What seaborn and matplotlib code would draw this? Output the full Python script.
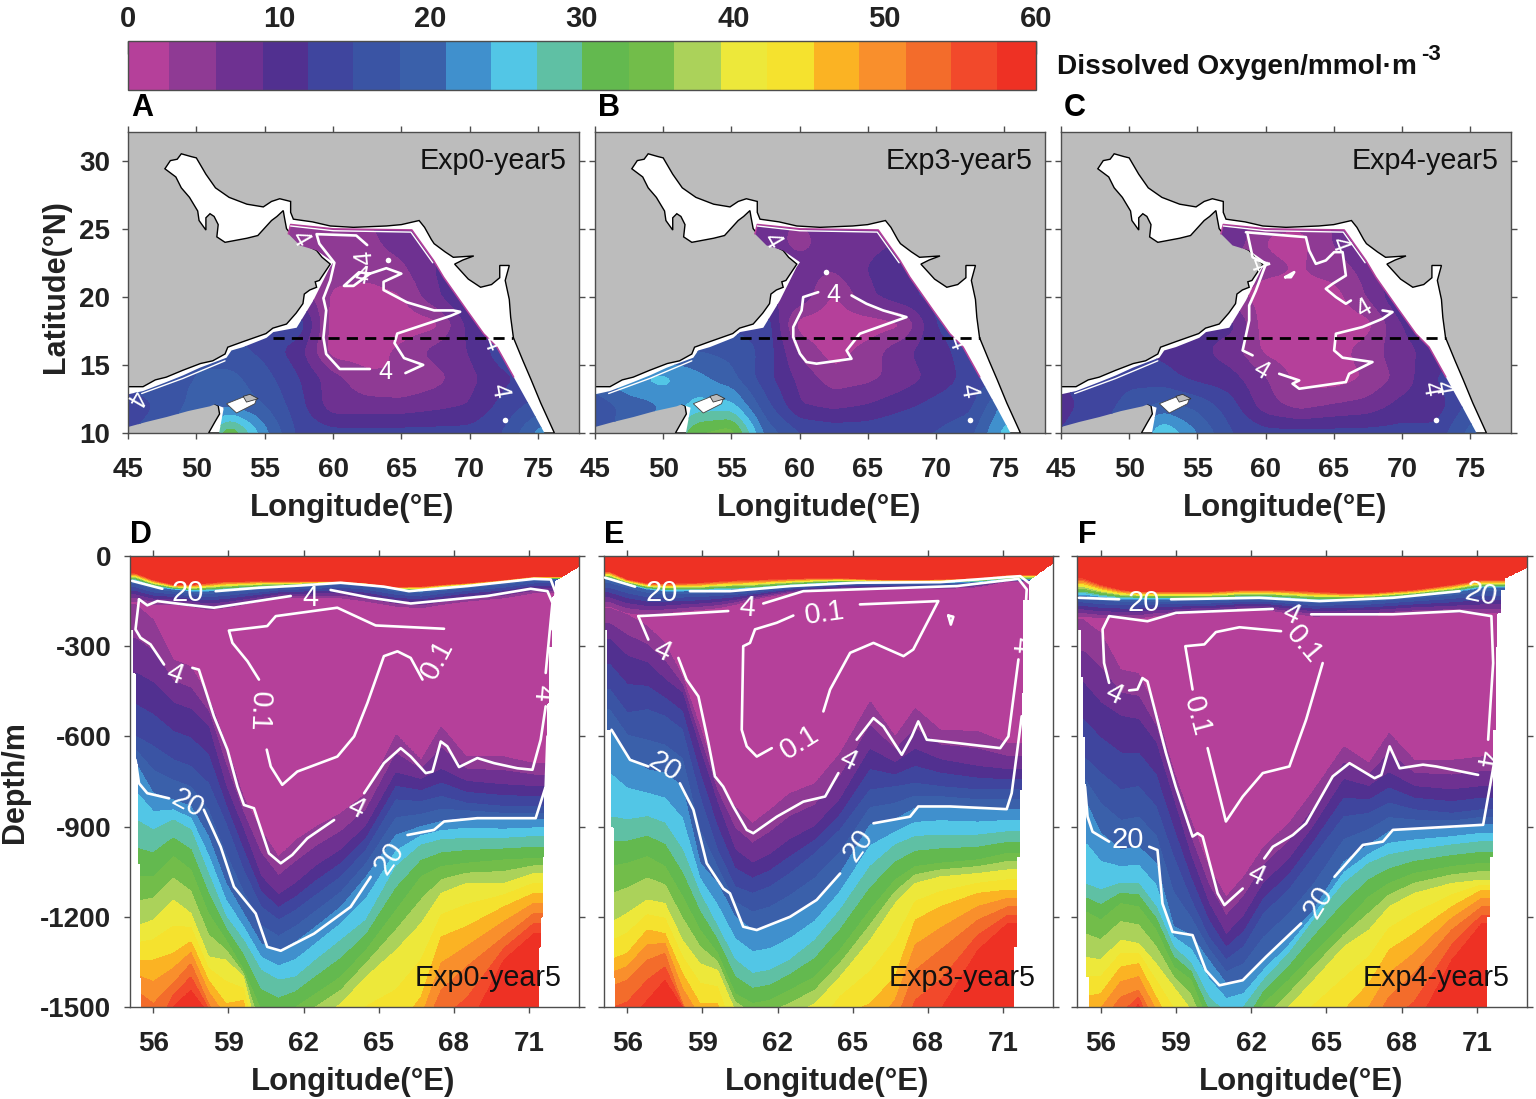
import numpy as np
import matplotlib
matplotlib.use("Agg")
import matplotlib.pyplot as plt
from matplotlib.colors import ListedColormap, BoundaryNorm
from matplotlib.colorbar import ColorbarBase
from matplotlib.patches import Polygon
import seaborn as sns

sns.set_style("ticks")
plt.rcParams['font.family'] = ['Liberation Sans', 'DejaVu Sans']

# ---------------- colour scale
LEVELS = [0, 2.7, 5.8, 8.9, 11.9, 14.9, 18, 21, 24, 27, 30, 33.1, 36.1, 39.2, 42.2, 45.3, 48.3, 51.4, 54.4, 57.4, 60]
COLORS = ['#b5409a', '#8f3a94', '#6e3191', '#513090', '#3f459e', '#3a54a4', '#3a60aa', '#4090cd', '#52c6e6', '#5fc0a4',
          '#63b94f', '#72bd4a', '#abd25a', '#ede83a', '#f5e22e', '#fbb323', '#f98f2c', '#f36c2b', '#f2492b', '#ee3124']
CBAR_TICKS = [0, 10, 20, 30, 40, 50, 60]

# ---------------- map data
COAST = [(45,13.4),(46.1,13.4),(47,13.9),(47.8,14.1),(49,14.6),(50.3,15.1),(51.2,15.3),(52.1,15.8),(52.3,16.3),(53.4,16.7),(55.1,17.3),(55.6,17.7),
         (56.6,18),(57.3,18.8),(57.8,19.5),(57.9,20.2),(58.3,20.5),(58.8,20.7),(58.7,21.1),(59,21.2),(59.8,22.4),(59.2,22.9),(58.8,23.4),(57.6,24),(57,24.5),(56.6,25),
         (56.45,25.8),(56.36,26.33),(55.9,25.9),(55.5,25.6),(54.5,24.5),(53.7,24.3),(52.9,24.15),(52.1,24),(51.5,24.4),(51.6,25.3),(51.3,25.9),(51.0,26.1),(50.7,25.8),(50.7,24.9),
         (50.2,25.6),(50.1,26.3),(49.5,27.3),(48.9,28),(48.5,28.8),(47.7,29.4),(48.1,30),(48.6,30.1),(48.9,30.5),(49.6,30.3),(50,30.2),(50.7,29),(51.4,28),(52.4,27.3),(53.7,26.8),
         (54.9,26.6),(55.5,27),(56.1,27.2),(56.9,27),(56.9,26.2),(57.1,25.7),(58.5,25.5),(59.8,25.2),(61.5,25.1),(63.9,25.2),(65,25.3),(66.3,25.6),(66.7,25.1),(67.2,24.2),(67.4,23.9),(68.2,23.3),(68.8,22.9),
         (70.3,23),(69.5,22.7),(68.9,22.4),(69.9,21.3),(70.8,20.7),(71.6,20.9),(72.2,21.4),(72.2,22.3),(72.9,22.3),(72.6,21.2),(72.9,19.8),(73,18.5),(73.2,17),(73.9,15.3),(74.5,13.9),
         (75.2,12.2),(76.2,10),(50.9,10),(51.35,10.8),(51.7,11.4),(51.6,12),(51,12.3),(49.3,11.8),(47.8,11.4),(46.3,11.1),(45,10.7)]
SEA = [(45,12.84),(46.1,13.08),(47.81,13.74),(49.03,14.23),(50.25,14.79),(52.21,15.53),(52.57,16.06),(53.43,16.31),(55.14,16.99),
       (55.63,17.41),(57.34,17.73),(58.56,19.73),(59.78,22.18),(60.03,22.54),(58.8,23.4),(57.58,23.77),(56.73,24.62),(56.9,25.31),
       (60.03,24.99),(65.77,24.91),(67.36,22.67),(68.09,21.44),(69.8,19),(71.02,17.29),(71.99,16.31),(73.22,14.11),(74.44,11.91),
       (75.47,10),(51.67,10),(52.01,11.86),(51.35,12.1),(50.99,11.96),(49.4,11.61),(47.81,11.17),(46.34,10.81),(45,10.44)]
FRINGE = [(56.73,24.62),(56.9,25.31),(60.03,24.99),(65.77,24.91),(67.36,22.67),(68.09,21.44),(69.8,19),(71.02,17.29),(71.99,16.31),(73.22,14.11)]
SOCOTRA = [(52.21,12.15),(53.43,12.64),(54.41,12.52),(54.28,12.15),(52.94,11.47)]
SOCOTRA_LAND = [(53.43,12.69),(53.92,12.84),(54.53,12.52),(53.67,12.27)]
SECTION_LINE_LON = [55.6, 73.2]
SECTION_LINE_LAT = [17, 17]

MAP_LON = [45, 47.5, 50, 52.5, 55, 57.5, 60, 62.5, 65, 67.5, 70, 72.5, 75, 77.5]
MAP_LAT = [10, 12, 14, 16, 18, 20, 22, 24, 26]
MAP_A = [[15,17,22,33,22,14,13,13,13,13,13,15,22,25],
         [12,16,19,20,18,13,7,7,7,8,9,13,16,20],
         [17,17,18,19,16,12,7,3.5,2.5,4.5,8,11,14,16],
         [17,18,18,16,14,10,1,1,3.5,7,9,14,15,15],
         [14,14,14,14,14,14,1,0.5,0.5,1.5,10,13,14,14],
         [10,10,10,10,10,8,2,1,2.5,8,13,14,14,14],
         [6,6,6,6,6,5,4,4,5,9,12,13,13,13],
         [5,5,5,5,5,5,4,5,7,8,9,9,9,9],
         [5,5,5,5,5,5,5,6,7,8,9,9,9,9]]
MAP_B = [[17,19,24,33,35,20,15,14,14,15,15,17,25,25],
         [16,19,21,25,25,16,9,8,9,11,13,14,22,22],
         [20,24,25,22,19,13,8,4,5,7,10,13,15,18],
         [18,18,18,18,17,14,5,1,4,8,11,13,14,14],
         [14,14,14,14,14,14,1,0.5,0.5,2,12,13,13,13],
         [9,9,9,9,9,9,8,2,8,11,13,13,13,13],
         [7,7,7,7,7,7,7,6,9,11,12,12,12,12],
         [6,6,6,6,6,7,5,7,8,9,9,9,9,9],
         [6,6,6,6,6,6,6,7,8,9,9,9,9,9]]
MAP_C = [[12,14,18,27,21,15,13,13,13,13,13,13,19,22],
         [11,13,16,19,17,13,7,4.5,6,7,10,10,16,18],
         [12,13,14,13,11,10,6,1.5,1,3,7,12,14,15],
         [13,13,13,11,10,7,2,0.5,1.5,4,8,10,12,12],
         [10,10,10,10,10,10,0.5,0.5,0.5,1.5,9,11,11,11],
         [4,4,4,4,4,4,1,1,1.2,6,12,12,12,12],
         [4,4,4,4,4,4,3.5,2.5,4,7,10,10,10,10],
         [8,8,8,8,8,8,2.5,1.5,6,9,9,9,9,9],
         [8,8,8,8,8,8,4,4,6,9,9,9,9,9]]

LINES_A = [[(62.5,23.8),(61.7,24.5),(58.8,24.6),(59,23.9),(60.1,22.5),(59.8,21.2),(59.3,19.9),(59.5,19),(59.3,17),(59.5,15.8),(60.5,14.7),(62.7,14.7)],
           [(65.3,14.4),(66.6,15),(65.2,15.5),(64.5,16.6),(64.7,17.3),(68.6,18.6),(69.3,18.9),(68.8,19),(67.4,19),(65.4,19.6),(63.7,20.5),(63.7,21.1),(65,21.7),(63.9,22.1),(62.7,21.7),(61.9,21.8),(60.8,20.8),(61.5,20.8),(62.7,21.7)]]
LINES_B = [[(61.37,20.34),(60.27,19.98),(60.15,19),(59.54,17.78),(59.54,17.04),(60.03,15.82),(60.51,15.21),(61.25,15.09),(63.81,15.45),(63.45,16.06),(64.42,17.29),(67.84,18.51),(66.13,19),(64.91,19.49),(63.81,20.1)]]
LINES_C = [[(58.56,24.74),(62.96,24.38),(63.2,23.4),(63.69,22.42),(64.42,22.67),(65.03,23.28),(65.65,23.28),(65.89,21.56),(64.91,20.95),(64.42,20.59),(65.16,19.98),(65.89,19.49),(66.26,19.73)],
           [(68.58,19),(69.31,18.88),(68.58,18.39),(67.11,17.78),(65.16,17.29),(65.03,16.06),(65.65,15.53),(67.84,15.21),(66.13,14.35),(65.89,13.74),(62.47,13.25),(61.98,13.62),(62.47,13.86),(61,14.35)],
           [(59.05,15.7),(58.32,16.06),(58.8,18.26),(58.8,19.36),(59.29,20.46),(60.03,22.42),(59.05,22.91),(58.68,24.62)],
           [(61.44,21.44),(62.1,21.81),(61.86,21.44),(61.44,21.44)]]
COAST_4 = [[(56.9,25.2),(60.03,24.85),(65.7,24.75),(67.3,22.5)],[(46,12.9),(49,14.0),(52.1,15.3)]]
DOTS_A = [(64.06,22.67),(72.56,10.93)]
DOTS_B = [(61.93,21.81),(72.53,10.93)]
DOTS_C = [(72.49,10.93)]
LABELS_A = [(62.3,22.9,95),(62.1,21.5,-10),(63.8,14.5,0),(57.6,24.3,-60),(71.6,16.6,-70),(72.2,13.1,-80),(45.5,12.6,-120)]
LABELS_B = [(62.47,20.1,0),(57.95,24.13,-60),(71.5,16.67,-70),(72.36,13.13,-80)]
LABELS_C = [(59.66,14.6,-30),(67.23,19.12,30),(65.4,23.84,-70),(59.4,22.42,-70),(72.1,13.25,-80),(73.0,13.3,-80)]

# ---------------- section data (depth in m of oxygen values at each longitude)
SEC_LON = [55.3,56,56.8,57.5,58.2,58.9,59.6,60.3,61,61.7,62.5,63.5,64.5,65.7,66.7,67.5,68.5,70,71.2]
SEC_VALUES_UP = [57.4, 20, 2.7]
SEC_VALUES_DEEP = [2.7, 8.9, 14.9, 21, 27, 33.1, 39.2, 45.3, 51.4, 57.4]

D_UP = [[56,78,94,94,89,83,83,81,83,83,83,83,89,102,100,94,89,78,67],
        [83,102,111,117,117,114,109,106,102,98,94,89,94,111,117,109,100,89,76],
        [150,161,161,167,178,172,161,150,139,139,139,139,150,167,172,161,150,139,122]]
D_DEEP = [[161,211,344,367,467,622,800,911,1000,944,900,855,789,594,678,567,667,667,689],
          [389,422,489,511,567,767,911,1067,1128,1089,1033,978,900,722,744,711,750,761,767],
          [600,633,678,700,756,889,1044,1167,1211,1178,1128,1067,978,811,817,800,822,833,833],
          [689,789,811,833,933,1089,1189,1289,1317,1283,1233,1167,1067,928,900,883,872,878,876],
          [878,911,878,911,1056,1200,1278,1378,1411,1400,1344,1278,1211,1033,961,944,939,939,933],
          [1067,1067,1000,1044,1189,1278,1378,1511,1533,1500,1456,1400,1311,1178,1067,1033,1022,1011,1006],
          [1233,1211,1144,1189,1333,1344,1400,1633,1689,1633,1544,1489,1400,1311,1222,1122,1089,1089,1056],
          [1344,1344,1322,1283,1411,1489,1478,1744,1856,1800,1711,1656,1600,1578,1467,1267,1233,1167,1122],
          [1444,1489,1422,1356,1489,1578,1689,1856,1967,1911,1856,1800,1744,1711,1600,1444,1367,1267,1189],
          [1744,1689,1500,1444,1522,1689,1800,1967,2078,2022,1967,1911,1856,1822,1744,1633,1578,1344,1256]]
E_UP = [[50,76,89,91,89,87,83,80,78,76,74,72,72,76,78,78,76,72,61],
        [78,94,111,117,117,117,114,113,111,106,100,94,89,89,89,89,89,86,78],
        [167,189,194,189,183,178,172,161,144,133,122,117,111,109,109,109,109,102,83]]
E_DEEP = [[172,194,233,289,400,567,744,833,889,844,789,756,656,483,600,506,578,583,622],
          [278,333,356,411,456,644,822,978,1022,994,944,900,811,644,689,644,678,700,711],
          [444,522,511,533,578,800,978,1100,1122,1100,1056,989,911,778,767,756,767,778,778],
          [578,667,711,722,767,1022,1089,1200,1244,1233,1200,1150,1056,894,876,839,833,842,842],
          [867,878,867,889,978,1122,1233,1344,1389,1378,1344,1278,1178,1033,961,933,928,928,917],
          [1033,1022,1000,1033,1133,1244,1322,1456,1489,1478,1444,1400,1311,1178,1078,1033,1022,1011,989],
          [1222,1189,1144,1156,1278,1356,1378,1511,1556,1556,1533,1489,1400,1278,1156,1089,1067,1056,1044],
          [1344,1322,1244,1256,1389,1489,1489,1689,1744,1744,1711,1656,1533,1489,1400,1211,1167,1122,1111],
          [1433,1411,1344,1322,1489,1578,1689,1856,1911,1911,1878,1822,1744,1689,1556,1378,1311,1211,1167],
          [1578,1556,1478,1411,1500,1689,1800,2022,2078,2078,2022,1967,1911,1856,1744,1578,1511,1311,1222]]
F_UP = [[72,94,111,117,117,117,117,117,114,111,111,113,117,122,122,117,111,94,78],
        [133,139,144,144,144,144,144,144,142,139,139,144,150,147,144,139,133,122,106],
        [200,206,206,206,198,194,189,187,183,178,178,189,200,198,198,194,189,187,189]]
F_DEEP = [[211,256,378,389,511,711,878,1033,1133,1067,967,889,778,633,689,589,678,678,667],
          [422,489,533,544,622,811,1000,1156,1261,1200,1089,1011,900,744,767,722,767,778,767],
          [667,722,778,767,833,1000,1144,1267,1344,1300,1189,1111,1000,867,856,822,844,856,844],
          [800,922,978,967,1022,1233,1261,1344,1422,1411,1344,1267,1178,1017,961,917,911,906,894],
          [1089,1111,1089,1089,1167,1300,1356,1467,1522,1500,1411,1322,1211,1089,1022,994,978,961,950],
          [1178,1211,1156,1167,1244,1367,1411,1556,1633,1611,1489,1411,1322,1222,1133,1089,1056,1033,1022],
          [1333,1344,1278,1289,1356,1433,1511,1644,1744,1711,1589,1500,1411,1300,1244,1167,1122,1089,1078],
          [1467,1456,1367,1356,1467,1578,1644,1800,1911,1856,1744,1633,1578,1511,1422,1311,1256,1167,1111],
          [1578,1556,1467,1444,1556,1689,1800,1911,2022,1967,1856,1744,1711,1633,1578,1467,1389,1244,1167],
          [1689,1689,1578,1489,1644,1800,1911,2022,2133,2078,1967,1856,1822,1744,1689,1633,1578,1344,1222]]

# bathymetry steps: depth limit, western edge, eastern edge
D_LEFT = ([244,389,689,1022,1400,1501],[55.09,55.19,55.29,55.39,55.44,55.52])
D_RIGHT = ([33,78,133,300,489,767,1000,1200,1300,1501],[73.03,72.14,72.05,71.94,71.81,71.74,71.61,71.54,71.48,71.41])
E_LEFT = ([244,578,900,1400,1501],[55.09,55.17,55.35,55.44,55.52])
E_RIGHT = ([22,78,144,453,778,1000,1300,1501],[73.02,72.09,72.06,71.82,71.75,71.66,71.55,71.42])
F_LEFT = ([244,400,600,756,1400,1501],[55.09,55.2,55.27,55.36,55.43,55.53])
F_RIGHT = ([39,72,111,189,300,578,1000,1200,1501],[72.98,72.18,72.11,71.98,71.81,71.75,71.65,71.51,71.41])

D_C4 = [[(55.43,144),(55.29,244),(55.49,272),(55.89,294),(56.43,361)],
        [(57.56,372),(57.82,378),(58.42,533),(58.96,644),(59.36,767),(59.62,828),(60.02,839),(60.62,989),(61.09,1022),(61.55,994),(62.15,939),(63.22,878)],
        [(64.42,789),(65.21,689),(65.88,639),(66.28,667),(66.88,722),(67.15,717),(67.48,617),(67.74,633),(68.21,702),(68.94,672),(69.61,689),(70.54,706),(71.14,711),(71.47,611),(71.67,500)],
        [(71.67,389),(71.94,156),(71.74,117),(71.07,109),(69.34,133),(66.28,158),(64.68,139),(63.08,113)],
        [(61.49,133),(58.42,172),(57.23,161),(56.16,150),(55.76,164),(55.43,144)]]
D_C20 = [[(55.16,83),(56.36,109)],
         [(58.49,117),(60.15,106),(61.89,98),(63.48,89),(65.21,102),(66.21,117),(68.54,100),(71.2,76),(71.87,78),(72.07,122),(71.87,244)],
         [(71.74,600),(71.67,767),(71.27,872),(68.94,872),(67.61,883),(67.21,911),(66.15,928)],
         [(64.68,1067),(63.88,1167),(62.42,1256),(61.09,1313),(60.55,1300),(60.09,1189),(59.22,1100),(58.69,967),(58.02,844)],
         [(56.63,806),(55.76,789),(55.43,756),(55.29,678)]]
D_C01 = [[(67.61,242),(64.88,231),(63.35,172),(60.89,200),(60.55,233),(59.02,248),(59.16,289),(59.76,350),(60.22,411)],
         [(60.53,644),(60.69,700),(61.15,761),(61.75,717),(63.35,667),(64.02,600),(64.55,489),(65.21,333),(65.75,317),(66.28,339),(66.75,411)]]
D_LABELS = [("20",57.36,122,0),("4",62.28,139,0),("4",56.85,394,-20),("0.1",60.22,517,-92),("0.1",67.34,344,62),
            ("4",64.08,839,-25),("20",65.41,1006,55),("20",57.36,822,-28),("4",71.54,456,-95)]
E_C4 = [[(56.44,200),(56.84,278)],
        [(58.04,339),(58.37,411),(58.84,467),(59.24,622),(59.5,733),(59.83,767),(60.23,833),(60.77,911),(61.03,922),(61.97,867),(63.03,817),(63.9,800),(64.43,722)],
        [(65.16,611),(65.83,539),(66.23,567),(66.96,661),(67.36,600),(67.62,550),(67.96,611),(69.16,622),(70.89,639),(71.22,600),(71.62,344)],
        [(71.89,200),(71.95,111),(71.62,76),(69.16,100),(65.16,111),(63.03,117),(61.43,158)],
        [(60.03,183),(57.84,194),(56.44,200)]]
E_C20 = [[(55.11,72),(56.31,102)],
         [(58.5,117),(60.1,117),(62.5,100),(65.16,89),(68.49,87),(71.69,67),(72.11,94)],
         [(71.75,533),(71.35,789),(71.15,842),(68.89,833),(67.62,833),(67.29,867),(65.83,889)],
         [(64.5,1056),(63.56,1144),(62.5,1200),(61.17,1244),(60.63,1233),(60.1,1122),(59.83,1106),(59.17,1022),(58.64,844),(58.1,756)],
         [(56.84,700),(56.11,678),(55.37,578)]]
E_C01 = [[(62.63,198),(61.97,222),(61.1,244),(60.9,289),(60.63,300),(60.57,578),(60.77,633),(61.17,667),(61.77,639)],
         [(63.83,517),(64.1,444),(64.9,322),(65.83,289),(67.03,333),(67.42,311),(68.42,150),(65.29,161)],
         [(68.82,198),(69.02,202),(68.92,228),(68.82,198)]]
E_LABELS = [("20",57.37,122,0),("4",60.77,172,-5),("4",57.37,317,-25),("0.1",63.9,189,8),("0.1",62.9,622,32),
            ("4",64.83,678,-25),("20",65.23,961,55),("20",57.5,700,-32),("4",71.69,294,-95)]
F_C4 = [[(56.33,422),(56.13,356),(56.07,244),(56.33,200),(57.86,217),(59,189),(62.86,176)],
        [(64.39,194),(67.65,194),(70.31,183),(71.58,200),(71.65,356),(71.45,611)],
        [(71.05,728),(69.38,700),(68.85,694),(67.92,706),(67.52,633),(67.19,728),(66.92,739),(65.92,689),(65.25,733),(64.19,889),(63.66,928),(62.86,967),(62.52,1006)],
        [(61.66,1106),(60.93,1161),(60.66,1122),(60.06,933),(59.86,922),(59.66,933),(58.99,767),(58.6,656),(57.86,417),(57.66,406),(57.46,444),(57.13,447)]]
F_C20 = [[(55.13,139),(56.73,144)],
         [(58.8,144),(62.32,139),(64.72,150),(67.65,139),(70.31,117)],
         [(71.71,678),(71.25,894),(67.65,911),(67.25,950),(66.45,961),(65.32,1067)],
         [(63.99,1222),(62.59,1333),(61.66,1411),(60.73,1428),(60.19,1378),(59.66,1261),(58.86,1250),(58.46,1156),(58.26,978),(57.93,967)],
         [(56.33,950),(55.67,917),(55.47,867),(55.37,767)]]
F_C01 = [[(63.19,250),(61.53,237),(60.59,253),(60.13,294),(59.37,300),(59.66,444)],
         [(60.26,639),(60.99,883),(61.66,800),(62.46,722),(63.52,700),(64.19,544),(64.85,356)]]
F_LABELS = [("20",57.73,156,0),("4",63.59,194,-25),("4",56.53,461,-25),("0.1",59.82,533,-75),("0.1",64.12,294,-50),
            ("4",71.31,672,-100),("4",62.19,1061,-25),("20",64.66,1150,58),("20",57.07,944,0),("20",71.18,128,-12)]

EXP_NAMES = ["Exp0-year5", "Exp3-year5", "Exp4-year5"]
LON_TICKS_MAP = [45, 50, 55, 60, 65, 70, 75]
LAT_TICKS = [10, 15, 20, 25, 30]
LON_TICKS_SEC = [56, 59, 62, 65, 68, 71]
DEPTH_TICKS = [0, -300, -600, -900, -1200, -1500]

W, H = 1536, 1099
fig = plt.figure(figsize=(W/100, H/100), dpi=100, facecolor='white')
def add_ax(x0, x1, y0, y1):
    return fig.add_axes([x0/W, 1-y1/H, (x1-x0)/W, (y1-y0)/H])
def ftext(x, y, s, **kw):
    fig.text(x/W, 1-y/H, s, **kw)

cmap = ListedColormap(COLORS)
norm = BoundaryNorm(LEVELS, cmap.N)
AXC = '#4d4d4d'

def style(ax):
    ax.tick_params(which='major', direction='out', length=4, width=1, color=AXC,
                   top=True, right=True, labelsize=20, labelcolor='#222222')
    ax.tick_params(axis='x', pad=13)
    ax.tick_params(axis='y', pad=9)
    for s in ax.spines.values():
        s.set_color(AXC); s.set_linewidth(1.0); s.set_visible(True)
    for l in ax.get_xticklabels()+ax.get_yticklabels():
        l.set_fontweight('bold')

def white_lines(ax, segs, lw):
    for seg in segs:
        xs = [p[0] for p in seg]; ys = [p[1] for p in seg]
        sns.lineplot(x=xs, y=ys, sort=False, estimator=None, color='white', linewidth=lw, ax=ax, legend=False, zorder=6)

# ---------------- colour bar
cax = add_ax(128, 1036, 41, 90)
cb = ColorbarBase(cax, cmap=cmap, norm=norm, orientation='horizontal', spacing='proportional',
                  boundaries=LEVELS, ticks=CBAR_TICKS, ticklocation='top')
cb.minorticks_off()
cax.tick_params(axis='x', direction='in', length=9, width=1, color='#333333', labelsize=21, pad=6, labelcolor='#222222')
for l in cax.get_xticklabels():
    l.set_fontweight('bold')
cb.outline.set_edgecolor(AXC); cb.outline.set_linewidth(1)
ftext(1057, 67, "Dissolved Oxygen/mmol·m", fontsize=20.2, fontweight='bold', va='center', ha='left', color='#111111')
ftext(1421, 55, "-3", fontsize=16, fontweight='bold', va='center', ha='left', color='#111111')

# ---------------- maps
map_boxes = [(128, 579), (595, 1045), (1061, 1511)]
map_sets = [(MAP_A, LINES_A, DOTS_A, LABELS_A), (MAP_B, LINES_B, DOTS_B, LABELS_B), (MAP_C, LINES_C, DOTS_C, LABELS_C)]
fine_lon = np.arange(45, 78.01, 0.2)
fine_lat = np.arange(10, 26.01, 0.2)
for i, ((x0, x1), (vals, lines, dots, labels)) in enumerate(zip(map_boxes, map_sets)):
    ax = add_ax(x0, x1, 132, 433)
    ax.set_facecolor('#bcbcbc')
    ax.add_patch(Polygon(COAST, closed=True, fc='white', ec='black', lw=1.0, zorder=1))
    arr = np.array(vals, float)
    a1 = np.array([np.interp(fine_lon, MAP_LON, r) for r in arr])
    a2 = np.array([np.interp(fine_lat, MAP_LAT, c) for c in a1.T]).T
    k = np.ones(5)/5
    a2 = np.apply_along_axis(lambda v: np.convolve(np.pad(v, 2, mode='edge'), k, mode='valid'), 0, a2)
    a2 = np.apply_along_axis(lambda v: np.convolve(np.pad(v, 2, mode='edge'), k, mode='valid'), 1, a2)
    cs = ax.contourf(fine_lon, fine_lat, a2, levels=LEVELS, cmap=cmap, norm=norm, zorder=2, extend='max')
    clip = Polygon(SEA, closed=True, transform=ax.transData, fc='none', ec='none')
    ax.add_patch(clip)
    cs.set_clip_path(clip)
    ax.add_patch(Polygon(SOCOTRA, closed=True, fc='white', ec='#444444', lw=0.6, zorder=3))
    ax.add_patch(Polygon(SOCOTRA_LAND, closed=True, fc='#bcbcbc', ec='#333333', lw=0.6, zorder=4))
    ax.plot([p[0] for p in FRINGE], [p[1] for p in FRINGE], color='#b5409a', lw=1.1, zorder=5)
    white_lines(ax, COAST_4, 1.0)
    white_lines(ax, lines, 1.9)
    ax.scatter([d[0] for d in dots], [d[1] for d in dots], s=16, color='white', zorder=7, linewidths=0)
    for lo, la, rot in labels:
        ax.text(lo, la, "4", color='white', fontsize=18, ha='center', va='center', rotation=rot, zorder=8)
    ax.plot(SECTION_LINE_LON, SECTION_LINE_LAT, color='black', lw=2, ls=(0, (4, 2.6)), zorder=9)
    ax.set_xlim(45, 78); ax.set_ylim(10, 32.1)
    ax.set_xticks(LON_TICKS_MAP); ax.set_yticks(LAT_TICKS)
    if i > 0:
        ax.tick_params(labelleft=False)
    style(ax)
    ax.set_xlabel(''); ax.set_ylabel('')
    ftext(x1-12, 161, EXP_NAMES[i], fontsize=20.7, ha='right', va='center', color='#111111', zorder=20)
    ftext(x0+3, 108, "ABC"[i], fontsize=22, fontweight='bold', ha='left', va='center', color='black')
    ftext((x0+x1)/2-1, 508, "Longitude(°E)", fontsize=22.4, fontweight='bold', ha='center', va='center', color='#222222')

ftext(56, 287, "Latitude(°N)", fontsize=22, fontweight='bold', rotation=90, ha='center', va='center', color='#222222')

# ---------------- sections
sec_boxes = [(129.5, 579), (603.5, 1053), (1077, 1527)]
sec_sets = [(D_UP, D_DEEP, D_LEFT, D_RIGHT, D_C4, D_C20, D_C01, D_LABELS),
            (E_UP, E_DEEP, E_LEFT, E_RIGHT, E_C4, E_C20, E_C01, E_LABELS),
            (F_UP, F_DEEP, F_LEFT, F_RIGHT, F_C4, F_C20, F_C01, F_LABELS)]
g_lon = np.linspace(55.05, 73.0, 600)
g_dep = np.linspace(0, 1500, 751)
for i, ((x0, x1), (up, deep, left, right, c4, c20, c01, labs)) in enumerate(zip(sec_boxes, sec_sets)):
    ax = add_ax(x0, x1, 556, 1007)
    ax.set_facecolor('white')
    up_v = np.array([np.interp(g_lon, SEC_LON, r) for r in up])
    deep_v = np.array([np.interp(g_lon, SEC_LON, r) for r in deep])
    Z = np.zeros((g_dep.size, g_lon.size))
    for j in range(g_lon.size):
        top_d = up_v[:, j]; bot_d = deep_v[:, j]
        pt = top_d[2]; pb = max(bot_d[0], pt+1)
        ds = np.r_[0, top_d[0]-1, top_d, pt+4, pb-4 if pb-4 > pt+4 else pt+5, pb+1, bot_d[1:], 2600]
        vs = np.r_[70, 60, SEC_VALUES_UP, 1, 1, 2.7, SEC_VALUES_DEEP[1:], 70]
        ds = np.maximum.accumulate(ds) + np.arange(ds.size)*1e-3
        Z[:, j] = np.interp(g_dep, ds, vs)
    # mask outside the bathymetry: stepped in the west, stepped below a sloping top in the east
    Llim = np.array(left[1])[np.clip(np.searchsorted(left[0], g_dep), 0, len(left[1])-1)]
    Rlim = np.array(right[1])[np.clip(np.searchsorted(right[0], g_dep), 0, len(right[1])-1)]
    slope = g_dep <= right[0][1]
    Rlim[slope] = np.interp(g_dep[slope], right[0][:2], right[1][:2])
    mask = (g_lon[None, :] < Llim[:, None]) | (g_lon[None, :] > Rlim[:, None])
    Z = np.ma.array(Z, mask=mask)
    ax.contourf(g_lon, -g_dep, Z, levels=LEVELS, cmap=cmap, norm=norm, extend='max', zorder=2)
    neg = lambda segs: [[(p[0], -p[1]) for p in s] for s in segs]
    white_lines(ax, neg(c4), 1.9)
    white_lines(ax, neg(c20), 1.9)
    white_lines(ax, neg(c01), 1.9)
    for s, lo, d, rot in labs:
        ax.text(lo, -d, s, color='white', fontsize=21, ha='center', va='center', rotation=rot, zorder=8)
    ax.set_xlim(55.05, 73.0); ax.set_ylim(-1500, 0)
    ax.set_xticks(LON_TICKS_SEC); ax.set_yticks(DEPTH_TICKS)
    ax.set_yticklabels([str(t) for t in DEPTH_TICKS])
    if i > 0:
        ax.tick_params(labelleft=False)
    style(ax)
    ax.set_xlabel(''); ax.set_ylabel('')
    ftext(x1-17, 978, EXP_NAMES[i], fontsize=20.7, ha='right', va='center', color='#111111', zorder=20)
    ftext(x0+1, 535, "DEF"[i], fontsize=22, fontweight='bold', ha='left', va='center', color='black')
    ftext((x0+x1)/2-1, 1082, "Longitude(°E)", fontsize=22.4, fontweight='bold', ha='center', va='center', color='#222222')

ftext(15, 782, "Depth/m", fontsize=22, fontweight='bold', rotation=90, ha='center', va='center', color='#222222')

fig.savefig("out.png", dpi=100, facecolor='white')
